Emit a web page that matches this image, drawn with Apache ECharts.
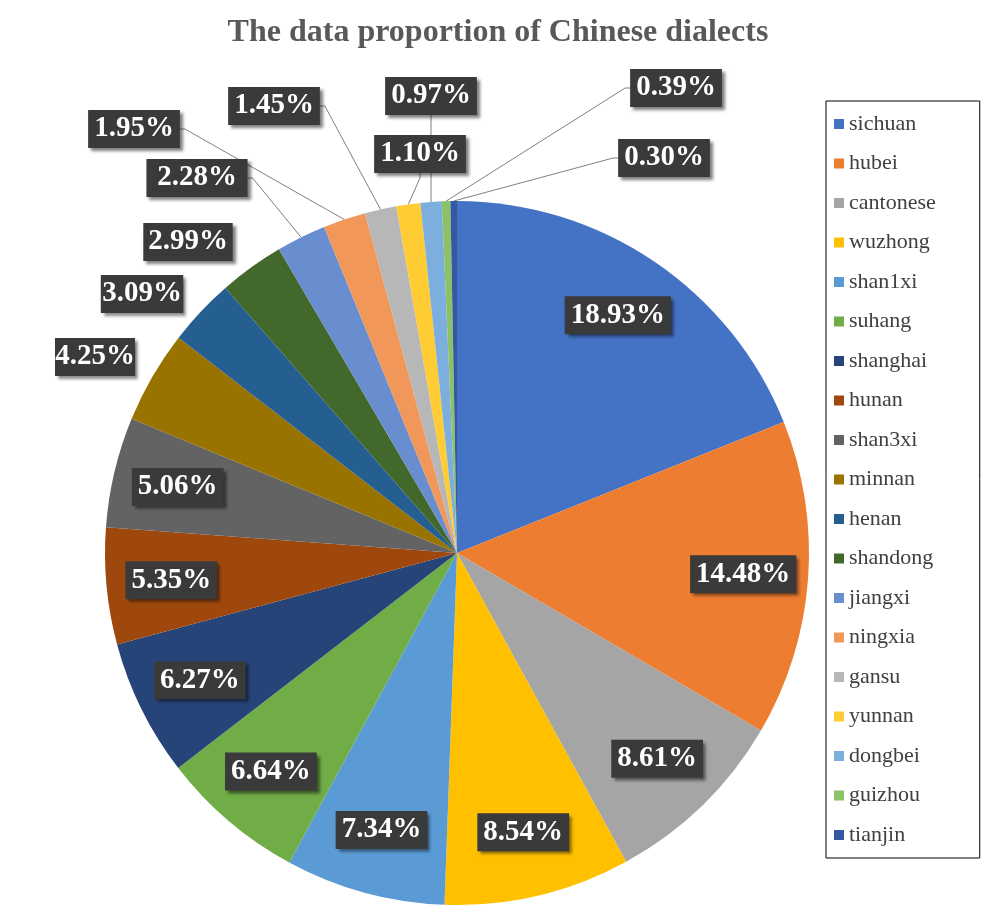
<!DOCTYPE html>
<html><head><meta charset="utf-8">
<script src="https://cdn.jsdelivr.net/npm/echarts@6/dist/echarts.min.js"></script>
<style>html,body{margin:0;padding:0;background:#fff}#c{width:996px;height:911px}</style>
</head><body><div id="c"></div>
<script>
const categories = ['sichuan','hubei','cantonese','wuzhong','shan1xi','suhang','shanghai','hunan','shan3xi','minnan','henan','shandong','jiangxi','ningxia','gansu','yunnan','dongbei','guizhou','tianjin'];
const values = [18.93,14.48,8.61,8.54,7.34,6.64,6.27,5.35,5.06,4.25,3.09,2.99,2.28,1.95,1.45,1.10,0.97,0.39,0.30];
const colors = ['#4472C4','#ED7D31','#A5A5A5','#FFC000','#5B9BD5','#70AD47','#264478','#9E480E','#636363','#997300','#255E91','#43682B','#698ED0','#F1975A','#B7B7B7','#FFCD33','#7CAFDD','#8CC168','#335AA1'];
const insideCount = 9;
const lineFrom = 12;
// label anchor spots for the small outer slices (label boxes, not marks)
const outerLabelSpots = {minnan:[95,357],henan:[142,294],shandong:[188,242],jiangxi:[197,178],ningxia:[134,129],gansu:[274,106],yunnan:[420,154],dongbei:[431,96],guizhou:[676,88],tianjin:[664,158]};
const labelStyle = {
  color:'#fff', fontFamily:'Liberation Serif, Times New Roman, serif', fontWeight:'bold', fontSize:29,
  backgroundColor:'#3a3a3a', padding:[6,6,3,6], shadowColor:'rgba(0,0,0,0.5)', shadowBlur:3, shadowOffsetX:3, shadowOffsetY:3,
  formatter: p => p.value.toFixed(2) + '%'
};
const chart = echarts.init(document.getElementById('c'));
chart.setOption({
  animation:false,
  title:{text:'The data proportion of Chinese dialects', left:'center', top:12,
    textStyle:{fontFamily:'Liberation Serif, Times New Roman, serif', fontWeight:'bold', fontSize:32, color:'#595959'}},
  legend:{orient:'vertical', left:826, top:101, itemGap:17.5, icon:'rect', itemWidth:10, itemHeight:10,
    borderColor:'#000', borderWidth:1, padding:[12,44,12,8],
    textStyle:{fontFamily:'Liberation Serif, Times New Roman, serif', fontSize:22, color:'#404040'}, data:categories},
  series:[{
    type:'pie', center:[457,553], radius:352, startAngle:90, clockwise:true,
    data: categories.map((n,i)=>({name:n, value:values[i], itemStyle:{color:colors[i]},
      label: i<insideCount ? {show:false} : Object.assign({show:true, position:'outside', overflow:'none'}, labelStyle),
      labelLine: i>=lineFrom ? {show:true} : {show:false}})),
    labelLine:{length:10, length2:5, lineStyle:{color:'#7f7f7f', width:1}},
    labelLayout: p => {
      const s = outerLabelSpots[categories[p.dataIndex]];
      return s ? {x:s[0], y:s[1], align:'center', verticalAlign:'middle', hideOverlap:false} : {};
    },
    emphasis:{disabled:true}
  },{
    type:'pie', center:[457,553], radius:568, startAngle:90, clockwise:true, silent:true, z:5,
    itemStyle:{color:'transparent'}, labelLine:{show:false},
    data: categories.map((n,i)=>({name:n, value:values[i],
      label: i<insideCount ? Object.assign({show:true, position:'inside'}, labelStyle) : {show:false}})),
    emphasis:{disabled:true}
  }]
});
</script></body></html>
